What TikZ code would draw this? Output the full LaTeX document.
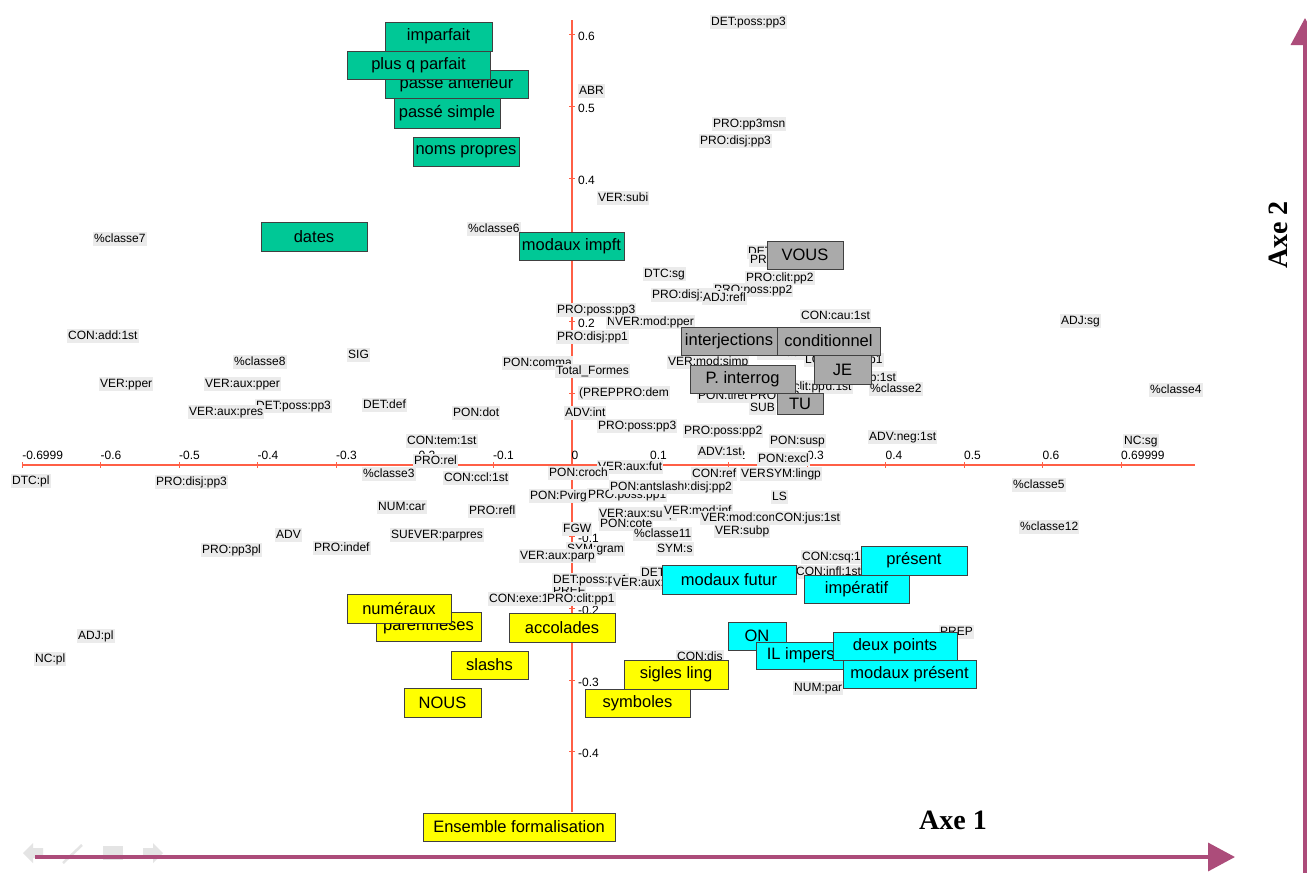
\documentclass[tikz,border=0pt]{standalone}
\usepackage{fontspec}
\setmainfont{Liberation Sans}
\newfontfamily\axefont{Liberation Serif}
\usetikzlibrary{arrows.meta}

\definecolor{fondetiq}{RGB}{235,235,235}
\definecolor{rougeaxe}{RGB}{255,95,70}
\definecolor{vertbox}{RGB}{0,200,150}
\definecolor{grisbox}{RGB}{170,170,170}
\definecolor{cyanbox}{RGB}{0,255,255}
\definecolor{jaunebox}{RGB}{255,255,0}
\definecolor{mauve}{RGB}{172,76,122}
\definecolor{navgris}{RGB}{228,228,228}

\begin{document}
\begin{tikzpicture}[x=1pt,y=-1pt,
    etiq/.style={fill=fondetiq, inner sep=1pt, anchor=west, text height=9pt, text depth=2.5pt,
                 font=\fontsize{12}{12}\selectfont},
    graduation/.style={inner sep=0pt, anchor=west, font=\fontsize{12}{12}\selectfont},
    axe/.style={draw=rougeaxe, line width=1.4pt},
    boite/.style={draw=black!75, line width=0.9pt, inner sep=0pt, minimum height=29,
                  font=\fontsize{16.5}{17}\selectfont},
    vert/.style={boite, fill=vertbox},
    gris/.style={boite, fill=grisbox},
    cyan/.style={boite, fill=cyanbox},
    jaune/.style={boite, fill=jaunebox},
    fleche/.style={draw=mauve, line width=3.5pt, -{Triangle[length=27pt,width=28pt]}},
    titreaxe/.style={inner sep=0pt, font=\axefont\bfseries\fontsize{28}{28}\selectfont}]

    \useasboundingbox (0,0) rectangle (1307,873);
    \fill[white] (0,0) rectangle (1307,873);

    % axes of the map
    \coordinate (xmin) at (22,465);
    \coordinate (xmax) at (1195,465);
    \coordinate (ymax) at (572,20);
    \coordinate (ymin) at (572,812);
    \draw[axe] (xmin) -- (xmax);
    \draw[axe] (ymin) -- (ymax);
    \foreach \v [count=\i] in {-0.6999,-0.6,-0.5,-0.4,-0.3,-0.2,-0.1,0,0.1,0.2,0.3,0.4,0.5,0.6,0.69999} {
        \draw[axe, line width=1pt] ({571.5+785*\v},462) -- ({571.5+785*\v},468);
        \node[graduation] (hx\i) at ({571.5+785*\v},455) {\v};
    }
    \foreach \v [count=\i] in {0.6,0.5,0.4,0.3,0.2,0.1,-0.1,-0.2,-0.3,-0.4} {
        \draw[axe, line width=1pt] (569,{465-717*\v}) -- (575,{465-717*\v});
        \node[graduation] (vy\i) at (578,{467-717*\v}) {\v};
    }

    % modalities
    \node[etiq] (detposspp3a) at (710,22) {DET:poss:pp3};
    \node[etiq] (abr) at (578,91) {ABR};
    \node[etiq] (propp3msn) at (712,124) {PRO:pp3msn};
    \node[etiq] (prodisjpp3a) at (699,141) {PRO:disj:pp3};
    \node[etiq] (versubi) at (597,198) {VER:subi};
    \node[etiq] (classe6) at (467,229) {\%classe6};
    \node[etiq] (classe7) at (93,239) {\%classe7};
    \node[etiq] (detposspp2) at (747,252) {DET:poss:pp2};
    \node[etiq] (propp2) at (749,260) {PRO:pp2};
    \node[etiq] (dtcsg) at (643,274) {DTC:sg};
    \node[etiq] (proposspp2a) at (713,290) {PRO:poss:pp2};
    \node[etiq] (proclitpp2) at (745,278) {PRO:clit:pp2};
    \node[etiq] (prodisjpp1a) at (651,295) {PRO:disj:pp1};
    \node[etiq] (adjrefl) at (702,298) {ADJ:refl};
    \node[etiq] (proposspp3a) at (556,310) {PRO:poss:pp3};
    \node[etiq] (concau) at (800,316) {CON:cau:1st};
    \node[etiq] (ncpp) at (606,322) {NC:pp};
    \node[etiq] (vermodpper) at (614,322) {VER:mod:pper};
    \node[etiq] (adjsg) at (1060,321) {ADJ:sg};
    \node[etiq] (conadd) at (67,336) {CON:add:1st};
    \node[etiq] (prodisjpp1) at (556,337) {PRO:disj:pp1};
    \node[etiq] (sig) at (347,355) {SIG};
    \node[etiq] (classe8) at (233,362) {\%classe8};
    \node[etiq] (poncomma) at (502,363) {PON:comma};
    \node[etiq] (total) at (555,371) {Total\_Formes};
    \node[etiq] (vermodsimp) at (667,362) {VER:mod:simp};
    \node[etiq] (verauxcond) at (757,353) {VER:aux:cond};
    \node[etiq] (locpp1) at (804,360) {LOC:PRO:pp1};
    \node[etiq] (verpp1st) at (834,378) {VER:pp:1st};
    \node[etiq] (classe2) at (869,389) {\%classe2};
    \node[etiq] (classe4) at (1149,390) {\%classe4};
    \node[etiq] (verpper) at (99,384) {VER:pper};
    \node[etiq] (verauxpper) at (204,384) {VER:aux:pper};
    \node[etiq] (detposspp3b) at (255,406) {DET:poss:pp3};
    \node[etiq] (verauxpres) at (188,412) {VER:aux:pres};
    \node[etiq] (detdef) at (362,405) {DET:def};
    \node[etiq] (pondot) at (452,413) {PON:dot};
    \node[etiq] (prep1) at (578,393) {(PREP};
    \node[etiq] (prodem) at (615,393) {PRO:dem};
    \node[etiq] (advint) at (564,413) {ADV:int};
    \node[etiq] (concond) at (775,387) {CON:cond:1st};
    \node[etiq] (proclitpp) at (763,387) {PRO:clit:pp};
    \node[etiq] (pontiret) at (697,396) {PON:tiret};
    \node[etiq] (propp2b) at (749,396) {PRO:pp2};
    \node[etiq] (sub) at (749,408) {SUB};
    \node[etiq] (proposspp3b) at (597,426) {PRO:poss:pp3};
    \node[etiq] (proposspp2b) at (683,431) {PRO:poss:pp2};
    \node[etiq] (contem) at (406,441) {CON:tem:1st};
    \node[etiq] (advneg) at (868,437) {ADV:neg:1st};
    \node[etiq] (ncsg) at (1123,441) {NC:sg};
    \node[etiq] (ponsusp) at (769,441) {PON:susp};
    \node[etiq] (adv1st) at (697,452) {ADV:1st};
    \node[etiq] (ponexcl) at (757,459) {PON:excl};
    \node[etiq] (prorel) at (413,461) {PRO:rel};
    \node[etiq] (verauxfut) at (597,467) {VER:aux:fut};
    \node[etiq] (classe3) at (362,474) {\%classe3};
    \node[etiq] (conccl) at (443,478) {CON:ccl:1st};
    \node[etiq] (poncroch) at (548,473) {PON:croch};
    \node[etiq] (conref) at (691,474) {CON:ref};
    \node[etiq] (verinf) at (740,474) {VER:inf};
    \node[etiq] (symlingp) at (765,474) {SYM:lingp};
    \node[etiq] (dtcpl) at (11,481) {DTC:pl};
    \node[etiq] (prodisjpp3b) at (155,482) {PRO:disj:pp3};
    \node[etiq] (classe5) at (1012,485) {\%classe5};
    \node[etiq] (proposspp1) at (587,495) {PRO:poss:pp1};
    \node[etiq] (prodisjpp2) at (660,487) {PRO:disj:pp2};
    \node[etiq] (ponantslash) at (609,487) {PON:antslash};
    \node[etiq] (ponpvirg) at (529,496) {PON:Pvirg};
    \node[etiq] (ls) at (771,497) {LS};
    \node[etiq] (numcar) at (377,507) {NUM:car};
    \node[etiq] (prorefl) at (468,511) {PRO:refl};
    \node[etiq] (verauxsubp) at (598,514) {VER:aux:subp};
    \node[etiq] (vermodinf) at (663,511) {VER:mod:inf};
    \node[etiq] (vermodcond) at (700,518) {VER:mod:cond};
    \node[etiq] (conjus) at (774,518) {CON:jus:1st};
    \node[etiq] (poncote) at (599,524) {PON:cote};
    \node[etiq] (fgw) at (562,529) {FGW};
    \node[etiq] (classe11) at (633,534) {\%classe11};
    \node[etiq] (versubp) at (714,531) {VER:subp};
    \node[etiq] (classe12) at (1019,527) {\%classe12};
    \node[etiq] (subb) at (390,535) {SUB};
    \node[etiq] (verparpres) at (413,535) {VER:parpres};
    \node[etiq] (adv) at (275,535) {ADV};
    \node[etiq] (proindef) at (313,548) {PRO:indef};
    \node[etiq] (propp3pl) at (201,550) {PRO:pp3pl};
    \node[etiq] (symgram) at (566,549) {SYM:gram};
    \node[etiq] (syms) at (656,549) {SYM:s};
    \node[etiq] (verauxparp) at (519,556) {VER:aux:parp};
    \node[etiq] (concsq) at (801,557) {CON:csq:1st};
    \node[etiq] (coninfl) at (795,572) {CON:infl:1st};
    \node[etiq] (detdem) at (640,573) {DET:dem};
    \node[etiq] (preff) at (552,591) {PREF};
    \node[etiq] (detposspp1) at (552,580) {DET:poss:pp1};
    \node[etiq] (verauxinf) at (612,583) {VER:aux:inf};
    \node[etiq] (conexe) at (488,599) {CON:exe:1st};
    \node[etiq] (proclitpp1) at (546,599) {PRO:clit:pp1};
    \node[etiq] (prep) at (939,632) {PREP};
    \node[etiq] (adjpl) at (77,636) {ADJ:pl};
    \node[etiq] (condis) at (676,657) {CON:dis};
    \node[etiq] (ncpl) at (34,659) {NC:pl};
    \node[etiq] (numpar) at (793,688) {NUM:par};

    % groups
    \node[vert, minimum width=107] (imparfait) at (438.5,36.5) {imparfait};
    \node[vert, minimum width=143, minimum height=28] (anterieur) at (456.5,84) {passe anterieur};
    \node[vert, minimum width=143, minimum height=28] (plusq) at (418.5,65) {plus q parfait};
    \node[vert, minimum width=106, minimum height=30] (passesimple) at (447,113) {passé simple};
    \node[vert, minimum width=106] (nomspropres) at (466,151.5) {noms propres};
    \node[vert, minimum width=106] (dates) at (314,236.5) {dates};
    \node[vert, minimum width=105, minimum height=28] (modauximpft) at (571.5,246) {modaux impft};

    \node[gris, minimum width=76, minimum height=28] (vous) at (805,255) {VOUS};
    \node[gris, minimum width=96, minimum height=28] (interjections) at (729,341) {interjections};
    \node[gris, minimum width=103, minimum height=28] (conditionnel) at (828.5,341) {conditionnel};
    \node[gris, minimum width=57] (je) at (842.5,369.5) {JE};
    \node[gris, minimum width=105, minimum height=28] (interrog) at (742.5,379) {P. interrog};
    \node[gris, minimum width=46, minimum height=21] (tu) at (800,403.5) {TU};

    \node[cyan, minimum width=134] (modauxfutur) at (729,579.5) {modaux futur};
    \node[cyan, minimum width=106] (present) at (914,560.5) {présent};
    \node[cyan, minimum width=105, minimum height=28] (imperatif) at (856.5,589.5) {impératif};
    \node[cyan, minimum width=58, minimum height=28] (on) at (757,636) {ON};
    \node[cyan, minimum width=94, minimum height=27] (ilimpers) at (803,655.5) {IL impers.};
    \node[cyan, minimum width=124, minimum height=28] (deuxpoints) at (895,646) {deux points};
    \node[cyan, minimum width=133, minimum height=28] (modauxpresent) at (909.5,674) {modaux présent};

    \node[jaune, minimum width=105] (parentheses) at (428.5,626.5) {parenthèses};
    \node[jaune, minimum width=104] (numeraux) at (399,608.5) {numéraux};
    \node[jaune, minimum width=106] (accolades) at (562,627.5) {accolades};
    \node[jaune, minimum width=77, minimum height=28] (slashs) at (489.5,665) {slashs};
    \node[jaune, minimum width=77] (nous) at (442.5,702.5) {NOUS};
    \node[jaune, minimum width=104] (siglesling) at (676,674.5) {sigles ling};
    \node[jaune, minimum width=105, minimum height=28] (symboles) at (637.5,703) {symboles};
    \node[jaune, minimum width=192, minimum height=28] (ensemble) at (519,827) {Ensemble formalisation};

    % slide controls
    \fill[navgris] (23,853) -- (33,843) -- (33,848) -- (43,848) -- (43,858) -- (33,858) -- (33,863) -- cycle;
    \draw[navgris, line width=2.5pt] (63,863) -- (82,845);
    \fill[navgris] (103,846) rectangle (123,860);
    \fill[navgris] (163,853) -- (153,843) -- (153,848) -- (143,848) -- (143,858) -- (153,858) -- (153,863) -- cycle;

    % the two axes
    \coordinate (a1debut) at (35,857);
    \coordinate (a1fin) at (1235,857);
    \coordinate (a2debut) at (1305,873);
    \coordinate (a2fin) at (1305,18);
    \draw[fleche] (a1debut) -- (a1fin);
    \draw[fleche] (a2debut) -- (a2fin);
    \node[titreaxe] (axe1) at (953,820) {Axe 1};
    \node[titreaxe, rotate=90] (axe2) at (1278,235) {Axe 2};
\end{tikzpicture}
\end{document}
